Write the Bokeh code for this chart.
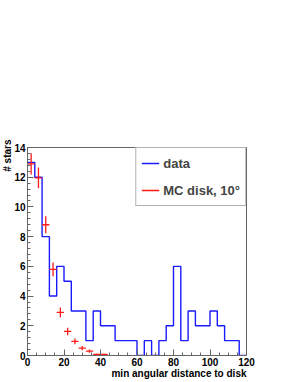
from bokeh.plotting import figure
from bokeh.models import SingleIntervalTicker, Legend, LegendItem, Title, Range1d
from bokeh.embed import file_html
from bokeh.resources import INLINE

# ---- data ----
bin_width = 4
data_counts = [13, 12, 8, 4, 6, 5, 3, 3, 1, 3, 2, 2, 1, 1, 1,
               0, 1, 0, 1, 2, 6, 1, 3, 2, 2, 3, 2, 1, 1, 0]
mc_x = [2, 6, 10, 14, 18, 22, 26, 30, 34, 38, 42]
mc_y = [12.9, 11.95, 8.8, 5.8, 2.9, 1.62, 0.95, 0.5, 0.3, 0.07, 0.07]
mc_err = [0.72, 0.7, 0.58, 0.46, 0.33, 0.25, 0.19, 0.14, 0.11, 0.05, 0.05]
x_label = "min angular distance to disk"
y_label = "# stars"
legend_labels = ["data", "MC disk, 10°"]

FONT = "Liberation Sans"
GREY = "#666666"

edges = [i * bin_width for i in range(len(data_counts) + 1)]
step_y = data_counts + [data_counts[-1]]

p = figure(frame_width=219, frame_height=208, output_backend="svg", toolbar_location=None,
           x_range=Range1d(0, 120), y_range=Range1d(0, 14),
           min_border_left=0, min_border_right=44, min_border_top=147,
           min_border_bottom=26)
p.background_fill_color = "white"
p.border_fill_color = "white"
p.outline_line_color = GREY
p.outline_line_width = 1
p.xgrid.visible = False
p.ygrid.visible = False

for ax, tk in ((p.xaxis[0], SingleIntervalTicker(interval=20, num_minor_ticks=4)),
               (p.yaxis[0], SingleIntervalTicker(interval=2, num_minor_ticks=5))):
    ax.ticker = tk
    ax.major_tick_in = 6
    ax.major_tick_out = 0
    ax.minor_tick_in = 3
    ax.minor_tick_out = 0
    ax.axis_line_color = GREY
    ax.major_tick_line_color = GREY
    ax.minor_tick_line_color = GREY
    ax.major_label_text_font = FONT
    ax.major_label_text_font_style = "bold"
    ax.major_label_text_font_size = "10px"
    ax.major_label_text_color = "black"
    ax.major_label_standoff = 2
    ax.axis_label_standoff = 0

r_data = p.step(x=edges, y=step_y, mode="after", line_color="#1a1aff", line_width=1.4)
lo = [x - bin_width / 2 for x in mc_x]
hi = [x + bin_width / 2 for x in mc_x]
r_mc = p.segment(x0=lo, y0=mc_y, x1=hi, y1=mc_y, line_color="#ff1a1a", line_width=1.3)
p.segment(x0=mc_x, y0=[y - e for y, e in zip(mc_y, mc_err)],
          x1=mc_x, y1=[y + e for y, e in zip(mc_y, mc_err)],
          line_color="#ff1a1a", line_width=1.3)

legend = Legend(items=[LegendItem(label=legend_labels[0], renderers=[r_data]),
                       LegendItem(label=legend_labels[1], renderers=[r_mc])],
                location="top_right", margin=0, padding=5, spacing=7,
                glyph_width=18, glyph_height=20, label_height=20,
                label_standoff=4, border_line_color=GREY, border_line_width=1,
                background_fill_color="white", background_fill_alpha=1.0,
                label_text_font=FONT, label_text_font_style="bold",
                label_text_font_size="13px")
p.add_layout(legend)

p.add_layout(Title(text=x_label, align="right", text_font=FONT, text_font_style="bold",
                   text_font_size="10px", text_color="black", standoff=-5, offset=0,
                   padding=0),
             "below")
p.add_layout(Title(text=y_label, align="right", text_font=FONT, text_font_style="bold",
                   text_font_size="10px", text_color="black", standoff=-2, offset=-8,
                   padding=0),
             "left")

open("out.html", "w").write(file_html(p, INLINE))
